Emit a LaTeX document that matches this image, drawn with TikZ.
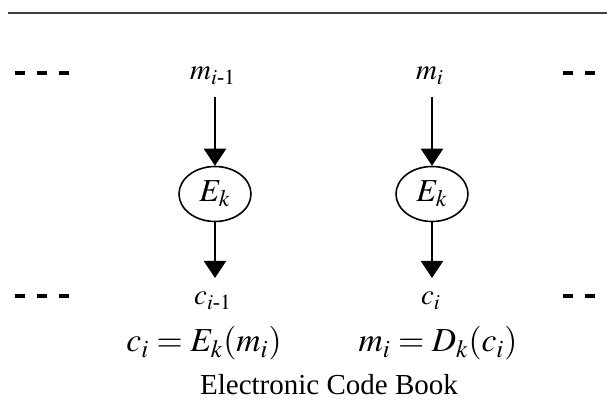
\documentclass[tikz,border=0pt]{standalone}
\usepackage{amsmath}
\usepackage{mathptmx}
\usepackage[no-math]{fontspec}
\setmainfont{Liberation Serif}
\usetikzlibrary{positioning, shapes, arrows.meta}
\tikzset{
  lbl/.style={inner sep=2pt, anchor=base, font=\fontsize{14.5}{16}\selectfont},
  eqn/.style={inner sep=0pt, anchor=base, font=\fontsize{16.8}{18}\selectfont},
  blk/.style={draw, ellipse, line width=0.8pt, minimum width=36pt,
    minimum height=27.5pt, inner sep=0pt, font=\fontsize{16}{18}\selectfont},
  flow/.style={line width=1.2pt, -{Triangle[width=11pt,length=8.5pt]}},
  gap/.style={line width=2pt, dash pattern=on 5pt off 6pt}}

\begin{document}
\begin{tikzpicture}[x=0.5pt, y=-0.5pt]
\useasboundingbox (0,0) rectangle (607,405);
\coordinate (r1) at (8,13);
\coordinate (r2) at (607,13);
\coordinate (dl1) at (15,73);
\coordinate (dl2) at (70,73);
\coordinate (dr1) at (563,73);
\coordinate (dr2) at (612,73);
\coordinate (bl1) at (15,296);
\coordinate (bl2) at (70,296);
\coordinate (br1) at (563,296);
\coordinate (br2) at (612,296);
% the rule left over from the figure above
\draw [line width=1.4pt, gray!50!black] (r1) -- (r2);
% blocks
\node [lbl] (m1) at (213,80) {$m_{i\text{-}1}$};
\node [lbl] (m2) at (430,80) {$m_{i}$};
\node [blk] (e1) at (215,194) {$E_{k}$};
\node [blk] (e2) at (432,194) {$E_{k}$};
\node [lbl] (c1) at (213,305) {$c_{i\text{-}1}$};
\node [lbl] (c2) at (431,305) {$c_{i}$};
\draw [flow, shorten <=4pt] (m1.south -| e1.north) -- (e1.north);
\draw [flow, shorten <=4pt] (m2.south -| e2.north) -- (e2.north);
\draw [flow, shorten >=5pt] (e1.south) -- (c1.north -| e1.south);
\draw [flow, shorten >=5pt] (e2.south) -- (c2.north -| e2.south);
% more blocks on both sides
\draw [gap] (dl1) -- (dl2);
\draw [gap] (dr1) -- (dr2);
\draw [gap] (bl1) -- (bl2);
\draw [gap] (br1) -- (br2);
  \node [eqn] (q1) at (204,352) {$c_{i} = E_{k}(m_{i})$};
  \node [eqn] (q2) at (438,352) {$m_{i} = D_{k}(c_{i})$};
  \node [anchor=base, inner sep=0pt, font=\fontsize{14.5}{17}\selectfont] (t) at (329,395) {Electronic Code Book};
\end{tikzpicture}
\end{document}
